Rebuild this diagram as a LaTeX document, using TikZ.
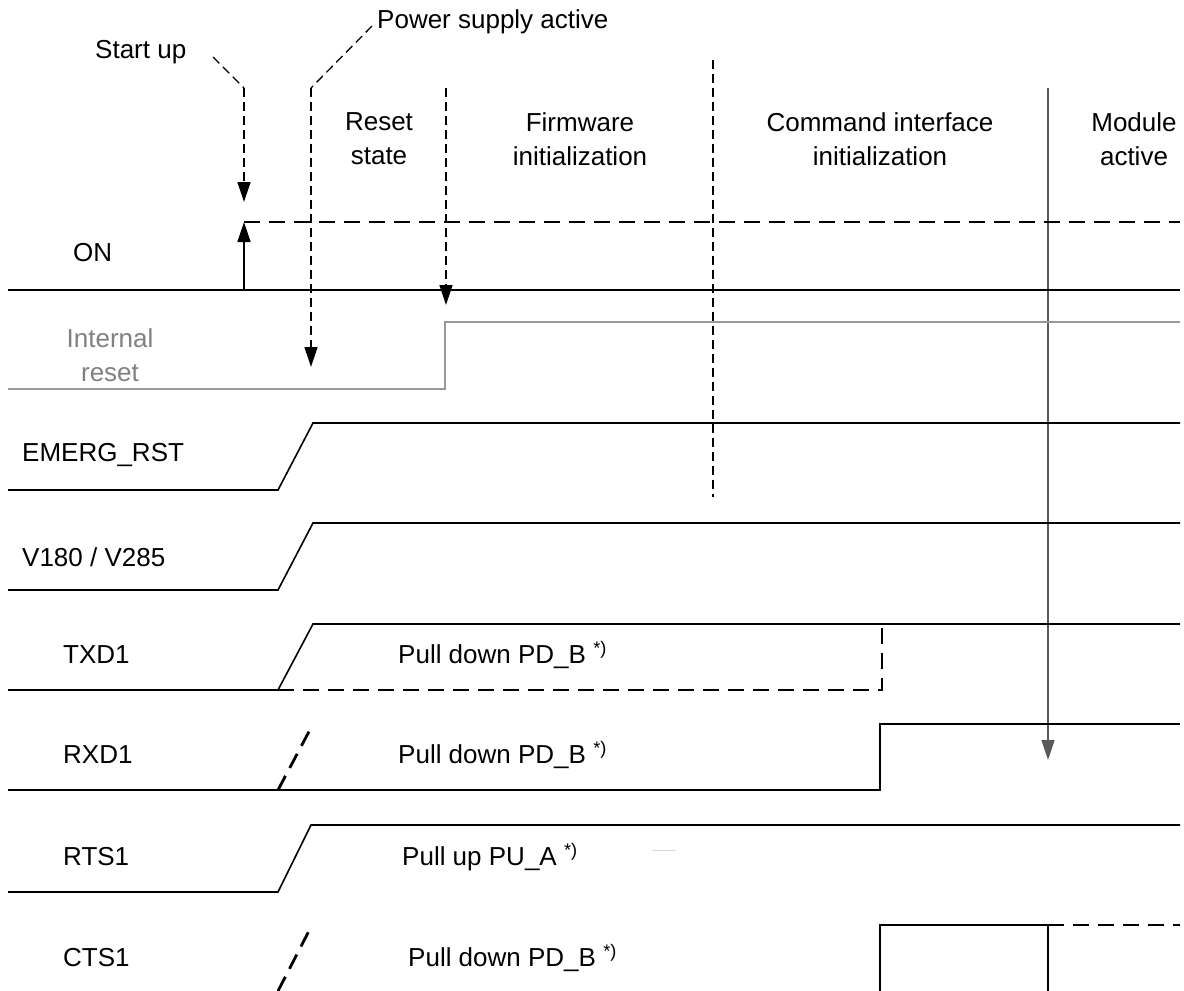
\documentclass[tikz,border=0pt]{standalone}
\usepackage{fontspec}
\setmainfont{Liberation Sans}
\usetikzlibrary{arrows.meta}

\begin{document}
\begin{tikzpicture}[x=1pt,y=-1pt,
	sig/.style={line width=1.6pt},
	gsig/.style={line width=1.6pt, draw=black!40},
	hidash/.style={line width=2.8pt, dash pattern=on 16pt off 9pt},
	evdash/.style={line width=1.3pt, dash pattern=on 9pt off 5pt},
	tip/.style={-{Triangle[length=20pt,width=13pt]}},
	lbl/.style={anchor=west, inner sep=0pt, font=\fontsize{26pt}{30pt}\selectfont},
	phase/.style={align=center, inner sep=0pt, font=\fontsize{26pt}{34pt}\selectfont},
	pull/.style={anchor=west, inner sep=0pt, font=\fontsize{26pt}{30pt}\selectfont}]
		\useasboundingbox (0,0) rectangle (1184,991);
		
		% phases
		\node[lbl] (startup) at (95,52) {Start up};
		\node[lbl] (psa) at (377,22) {Power supply active};
		\node[phase] (reset) at (379,139) {Reset\\state};
		\node[phase] (fw) at (580,139) {Firmware\\initialization};
		\node[phase] (cmd) at (880,139) {Command interface\\initialization};
		\node[phase] (act) at (1134,139) {Module\\active};
		
		\coordinate (su) at (244,88);
		\coordinate (ps) at (311,88);
		\coordinate (rs) at (446,88);
		\coordinate (fi) at (713,60);
		\coordinate (ci) at (1048,88);
		
		\draw[evdash] (213,57) -- (su);
		\draw[evdash] (372,26) -- (ps);
		\draw[evdash, tip] (su) -- (244,202);
		\draw[evdash, tip] (ps) -- (311,367);
		\draw[evdash, tip] (rs) -- (446,305);
		\draw[evdash] (fi) -- (713,497);
		\draw[line width=1.3pt, draw=black!65, tip] (ci) -- (1048,760);
		
		% signal names
		\node[lbl] (on) at (73,253) {ON};
		\node[phase, text=black!50] (ireset) at (110,355) {Internal\\reset};
		\node[lbl] (emerg) at (22,455) {EMERG\_RST};
		\node[lbl] (vio) at (22,557) {V180 / V285};
		\node[lbl] (txd) at (63,655) {TXD1};
		\node[lbl] (rxd) at (63,755) {RXD1};
		\node[lbl] (rts) at (63,857) {RTS1};
		\node[lbl] (cts) at (63,958) {CTS1};
		
		\node[pull] (txdpd) at (398,655) {Pull down PD\_B \textsuperscript{*)}};
		\node[pull] (rxdpd) at (398,755) {Pull down PD\_B \textsuperscript{*)}};
		\node[pull] (rtspu) at (402,857) {Pull up PU\_A \textsuperscript{*)}};
		\node[pull] (ctspd) at (408,958) {Pull down PD\_B \textsuperscript{*)}};
		\draw[line width=1pt, draw=black!15] (652,850) -- (676,850);
		
		% ON
		\draw[sig] (8,290) -- (1180,290);
		\draw[sig, tip] (244,290) -- (244,222);
		\draw[hidash] (244,222) -- (1180,222);
		
		% internal reset
		\draw[gsig] (8,389) -- (445,389) -- (445,322) -- (1180,322);
		
		% EMERG_RST
		\draw[sig] (8,490) -- (278,490) -- (313,423) -- (1180,423);
		
		% V180 / V285
		\draw[sig] (8,590) -- (278,590) -- (313,523) -- (1180,523);
		
		% TXD1
		\draw[sig] (8,690) -- (278,690) -- (313,624) -- (1180,624);
		\draw[hidash] (278,690) -- (882,690) -- (882,628);
		
		% RXD1
		\draw[sig] (8,790) -- (880,790) -- (880,724) -- (1180,724);
		\draw[hidash] (278,790) -- (313,724);
		
		% RTS1
		\draw[sig] (8,892) -- (278,892) -- (311,825) -- (1180,825);
		
		% CTS1
		\draw[hidash] (278,991) -- (312,925);
		\draw[sig] (880,991) -- (880,925) -- (1048,925) -- (1048,991);
		\draw[hidash] (1048,925) -- (1180,925);
		
	\end{tikzpicture}
\end{document}
